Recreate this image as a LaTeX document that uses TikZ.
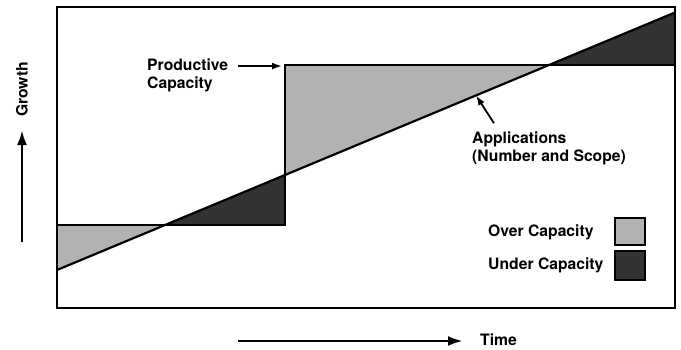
\documentclass[tikz,border=0pt]{standalone}
\usepackage{fontspec}
\setmainfont{TeX Gyre Heros}
\usetikzlibrary{calc}
\usetikzlibrary{arrows.meta}
\definecolor{overgray}{gray}{0.70}
\definecolor{undergray}{gray}{0.20}

\begin{document}
\begin{tikzpicture}[x=1pt,y=-1pt,
 lbl/.style={font=\fontsize{15.7}{18}\selectfont\bfseries, inner sep=0pt, align=left},
 legbox/.style={draw, line width=1.4pt, minimum width=30pt, inner sep=0pt},
 pointer/.style={line width=1.8pt, -{Latex[length=10pt,width=7pt]}},
 axisarrow/.style={line width=2.8pt, -{Latex[length=15pt,width=10pt]}}]
\useasboundingbox (0,0) rectangle (681,349);
\coordinate (BL) at (57,308);
\coordinate (TR) at (675,7);
% capacity steps and applications line
\coordinate (C0) at (57,225);
\coordinate (C1) at (285,225);
\coordinate (C2) at (285,65);
\coordinate (C3) at (675,65);
\coordinate (A0) at (57,270);
\coordinate (A1) at (675,12.5);
\coordinate (X1) at (intersection of A0--A1 and C0--C1);
\coordinate (X2) at (intersection of A0--A1 and C1--C2);
\coordinate (X3) at (intersection of A0--A1 and C2--C3);
\fill[overgray] (C0) -- (X1) -- (A0) -- cycle;
\fill[undergray] (X1) -- (C1) -- (X2) -- cycle;
\fill[overgray] (X2) -- (C2) -- (X3) -- cycle;
\fill[undergray] (X3) -- (A1) -- (C3) -- cycle;
\draw[line width=2.2pt, line join=miter] (C0) -- (C1) -- (C2) -- (C3);
\draw[line width=2.2pt] (A0) -- (A1);
\draw[line width=2.2pt] (BL) rectangle (TR);
% labels
\node[lbl, anchor=west] (prodcap) at (147,75) {Productive\\Capacity};
\draw[pointer] ($(prodcap.east |- C2)+(10,1)$) -- ($(C2)+(-3,1)$);
\coordinate (apptip) at ($(A0)!0.678!(A1)$);
\node[lbl, anchor=west] (apps) at (472,148) {Applications\\(Number and Scope)};
\draw[pointer] ($(apps.north west)+(22,-8)$) -- (apptip);
% legend
\node[lbl, anchor=west] (overlbl) at (488,232) {Over Capacity};
\node[lbl, anchor=west] (underlbl) at (488,265) {Under Capacity};
\node[legbox, fill=overgray, minimum height=27pt] (overbox) at (630,231.5) {};
\node[legbox, fill=undergray, minimum height=29pt] (underbox) at (630,265.5) {};
% axes
\node[lbl, rotate=90] (growth) at (22,89.5) {Growth};
\coordinate (gtail) at (22,242);
\coordinate (ghead) at (22,130);
\draw[axisarrow] (gtail) -- (ghead);
\node[lbl, anchor=west] (time) at (480,340) {Time};
\coordinate (ttail) at (238,341);
\coordinate (thead) at (463,341);
\draw[axisarrow] (ttail) -- (thead);
\end{tikzpicture}
\end{document}
